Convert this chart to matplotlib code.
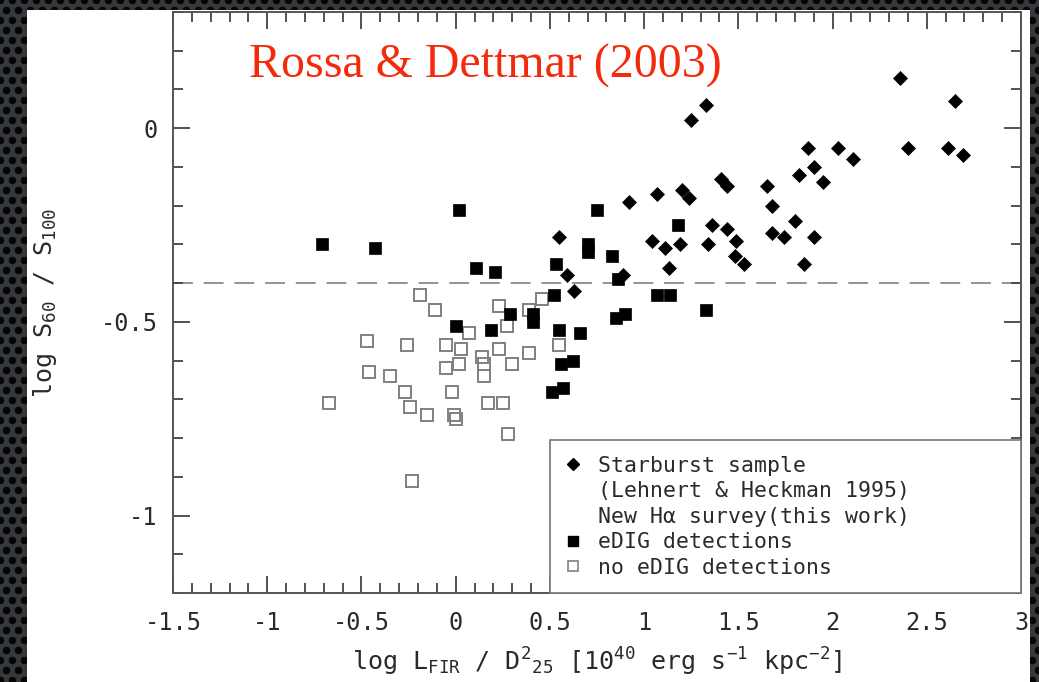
import numpy as np
import matplotlib
matplotlib.use("Agg")
import matplotlib.pyplot as plt
from matplotlib.lines import Line2D
from matplotlib.patches import Rectangle
from matplotlib.ticker import MultipleLocator, FuncFormatter

plt.rcParams['font.family'] = ['DejaVu Sans Mono']
plt.rcParams['mathtext.fontset'] = 'custom'
plt.rcParams['mathtext.rm'] = 'DejaVu Sans Mono'
plt.rcParams['mathtext.it'] = 'DejaVu Sans Mono'
plt.rcParams['mathtext.bf'] = 'DejaVu Sans Mono'

# Starburst sample (Lehnert & Heckman 1995)
sb_x = [0.55, 0.59, 0.63, 0.92, 0.89, 1.07, 1.20, 1.24, 1.04, 1.11, 1.19, 1.13,
        1.25, 1.33, 1.36, 1.44, 1.34, 1.49, 1.48, 1.53, 1.41, 1.44,
        1.65, 1.68, 1.68, 1.74, 1.80, 1.90, 1.85, 1.82, 1.90, 1.95, 1.87,
        2.03, 2.11, 2.36, 2.65, 2.40, 2.61, 2.69]
sb_y = [-0.28, -0.38, -0.42, -0.19, -0.38, -0.17, -0.16, -0.18, -0.29, -0.31, -0.30, -0.36,
        0.02, 0.06, -0.25, -0.26, -0.30, -0.29, -0.33, -0.35, -0.13, -0.15,
        -0.15, -0.20, -0.27, -0.28, -0.24, -0.28, -0.35, -0.12, -0.10, -0.14, -0.05,
        -0.05, -0.08, 0.13, 0.07, -0.05, -0.05, -0.07]

# new H-alpha survey: eDIG detections
det_x = [-0.71, -0.43, 0.02, 0.11, 0.21, 0.00, 0.19, 0.29, 0.41, 0.41, 0.52, 0.55,
         0.66, 0.53, 0.70, 0.70, 0.83, 0.75, 1.18, 0.86, 1.07, 1.14, 0.85, 0.90,
         1.33, 0.56, 0.62, 0.51, 0.57]
det_y = [-0.30, -0.31, -0.21, -0.36, -0.37, -0.51, -0.52, -0.48, -0.48, -0.50, -0.43, -0.52,
         -0.53, -0.35, -0.30, -0.32, -0.33, -0.21, -0.25, -0.39, -0.43, -0.43, -0.49, -0.48,
         -0.47, -0.61, -0.60, -0.68, -0.67]

# new H-alpha survey: no eDIG detections
non_x = [-0.19, -0.11, 0.07, -0.47, -0.26, -0.05, 0.03, 0.14, 0.15, 0.15, 0.02, -0.05,
         0.23, 0.27, 0.23, 0.30, 0.39, 0.39, 0.46, 0.55, -0.46, -0.35, -0.27, -0.67,
         -0.24, -0.15, -0.02, -0.01, 0.00, 0.17, 0.25, 0.28, -0.23]
non_y = [-0.43, -0.47, -0.53, -0.55, -0.56, -0.56, -0.57, -0.59, -0.61, -0.64, -0.61, -0.62,
         -0.46, -0.51, -0.57, -0.61, -0.58, -0.47, -0.44, -0.56, -0.63, -0.64, -0.68, -0.71,
         -0.72, -0.74, -0.68, -0.74, -0.75, -0.71, -0.71, -0.79, -0.91]

cut_y = -0.4

legend_labels = ["Starburst sample", "(Lehnert & Heckman 1995)",
                 "New Hα survey(this work)", "eDIG detections", "no eDIG detections"]

W, H = 1039, 682
fig = plt.figure(figsize=(W / 100, H / 100), dpi=100)
fig.patch.set_facecolor('#36393c')

# dotted dark backdrop with white panel
bg = fig.add_axes([0, 0, 1, 1], zorder=0)
bg.set_xlim(0, W)
bg.set_ylim(H, 0)
bg.axis('off')
gx, gy = np.meshgrid(np.arange(0, W + 12, 12.0), np.arange(0, H + 10, 10.0))
gx[1::2] += 6
bg.scatter(gx.ravel(), gy.ravel(), s=30, c='#060606', linewidths=0, zorder=1)
bg.add_patch(Rectangle((27, 10), 1003, 672, facecolor='white', edgecolor='none', zorder=2))

ax = fig.add_axes([173 / W, 89 / H, 848 / W, 581 / H], zorder=1)
ax.set_xlim(-1.5, 3)
ax.set_ylim(-1.2, 0.3)

ax.axhline(cut_y, color='#8a8a8a', lw=1.3, dashes=(11, 6), zorder=1)

ax.plot(non_x, non_y, ls='', marker='s', ms=8.5, mfc='none', mec='#808080', mew=1.4, zorder=2)
ax.plot(det_x, det_y, ls='', marker='s', ms=9.3, mfc='black', mec='black', mew=0.5, zorder=3)
ax.plot(sb_x, sb_y, ls='', marker='D', ms=7, mfc='black', mec='black', mew=0.5, zorder=4)

ax.xaxis.set_major_locator(MultipleLocator(0.5))
ax.xaxis.set_minor_locator(MultipleLocator(0.1))
ax.yaxis.set_major_locator(MultipleLocator(0.5))
ax.yaxis.set_minor_locator(MultipleLocator(0.1))
ax.xaxis.set_major_formatter(FuncFormatter(lambda v, p: f"{v:g}"))
ax.yaxis.set_major_formatter(FuncFormatter(lambda v, p: f"{v:g}"))
ax.tick_params(which='both', direction='in', top=True, right=True, color='#444', width=1.3)
ax.tick_params(which='major', length=12, labelsize=17, labelcolor='#2a2a2a')
ax.tick_params(axis='x', which='major', pad=13)
ax.tick_params(axis='y', which='major', pad=11)
ax.tick_params(which='minor', length=7)
for s in ax.spines.values():
    s.set_color('#555')
    s.set_linewidth(1.4)

ax.set_xlabel(r"log L$_{FIR}$ / D$^{2}{}_{25}$ [10$^{40}$ erg s$^{-1}$ kpc$^{-2}$]",
              fontsize=18, color='#2a2a2a', labelpad=8)
ax.set_ylabel(r"log S$_{60}$ / S$_{100}$", fontsize=18, color='#2a2a2a', labelpad=30)

handles = [
    Line2D([], [], ls='', marker='D', ms=6, color='black'),
    Line2D([], [], ls='', marker=''),
    Line2D([], [], ls='', marker=''),
    Line2D([], [], ls='', marker='s', ms=7, color='black'),
    Line2D([], [], ls='', marker='s', ms=7, mfc='none', mec='#808080', mew=1.2),
]
leg = ax.legend(handles, legend_labels, loc='lower left',
                bbox_to_anchor=((550 - 173) / 848, 0, (1021 - 550) / 848, 0.3),
                mode='expand', borderaxespad=0, fancybox=False, framealpha=1,
                edgecolor='#777', handlelength=0.7, handletextpad=0.8,
                labelspacing=0.25, borderpad=0.72, fontsize=15.5)
leg.get_frame().set_linewidth(1.2)
for t in leg.get_texts():
    t.set_color('#2a2a2a')

ax.text((249 - 173) / 848, (593 - 78) / 581, "Rossa & Dettmar (2003)",
        transform=ax.transAxes, ha='left', va='baseline',
        family='Liberation Serif', fontsize=34.5, color='#f42a0c')

fig.savefig("out.png", dpi=100, facecolor=fig.get_facecolor())
